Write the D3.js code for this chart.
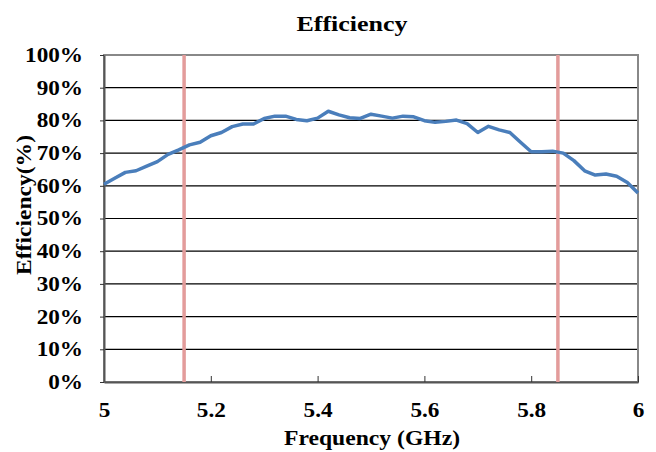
<!DOCTYPE html>
<html>
<head>
<meta charset="utf-8">
<script src="https://cdn.jsdelivr.net/npm/d3@7"></script>
<style>
	body { margin: 0; background: white; }
	text { font-family: "Liberation Serif", "Times New Roman", serif; font-weight: bold; }
</style>
</head>
<body>
<div id="plot"></div>
<script>
// frequency in GHz, efficiency in %
const freqs = d3.range(0, 51).map((i) => +(5 + i * 0.02).toFixed(2));
const efficiency = [
	60.5, 62.3, 64.1, 64.6, 66.0, 67.4, 69.6, 71.0, 72.5, 73.3,
	75.3, 76.3, 78.1, 78.9, 78.9, 80.6, 81.3, 81.3, 80.3, 79.9,
	80.7, 82.8, 81.7, 80.8, 80.6, 81.9, 81.3, 80.7, 81.3, 81.1,
	79.9, 79.4, 79.7, 80.1, 79.0, 76.3, 78.2, 77.1, 76.3, 73.3,
	70.4, 70.4, 70.6, 70.0, 67.7, 64.6, 63.3, 63.6, 62.9, 61.0,
	57.8
];
const bandEdges = [5.15, 5.85];
const xTicks = [5, 5.2, 5.4, 5.6, 5.8, 6];
const yTicks = [0, 10, 20, 30, 40, 50, 60, 70, 80, 90, 100];

const margin = { top: 55, right: 18, bottom: 70, left: 104 },
	width = 656 - margin.left - margin.right,
	height = 452 - margin.top - margin.bottom;

// the original text is a bit wider than Liberation Serif
const sx = 1.16;

const svg = d3
	.select("#plot")
	.append("svg")
	.attr("width", 656)
	.attr("height", 452);

const g = svg
	.append("g")
	.attr("transform", `translate(${margin.left},${margin.top})`);

const x = d3.scaleLinear().domain([5, 6]).range([0, width]);
const y = d3.scaleLinear().domain([0, 100]).range([height, 0]);

// grid lines
g.append("g")
	.selectAll("line")
	.data(yTicks.filter((d) => d > 0 && d < 100))
	.enter()
	.append("line")
	.attr("x1", 0)
	.attr("x2", width)
	.attr("y1", (d) => y(d))
	.attr("y2", (d) => y(d))
	.style("stroke", "#000")
	.style("stroke-width", 1.2);

// frame
g.append("rect")
	.attr("width", width)
	.attr("height", height)
	.style("fill", "none")
	.style("stroke", "#888")
	.style("stroke-width", 2);

// x axis, ticks pointing up
const xAxis = g
	.append("g")
	.attr("transform", `translate(0, ${height})`)
	.call(
		d3.axisBottom(x)
			.tickValues(xTicks)
			.tickSizeInner(-6)
			.tickSizeOuter(0)
			.tickPadding(21)
			.tickFormat((d) => d3.format("")(d))
	);
xAxis.select(".domain").style("stroke", "#555").style("stroke-width", 2);
xAxis.selectAll(".tick line").style("stroke", "#333");
xAxis.selectAll("text")
	.style("font-size", "20px")
	.style("fill", "#000")
	.attr("transform", `scale(${sx},1)`);

// y axis
const yAxis = g
	.append("g")
	.call(
		d3.axisLeft(y)
			.tickValues(yTicks)
			.tickSizeInner(4)
			.tickSizeOuter(0)
			.tickFormat((d) => d + "%")
	);
yAxis.select(".domain").style("stroke", "#555").style("stroke-width", 2);
yAxis.selectAll(".tick line").style("stroke", "#333");
yAxis.selectAll("text")
	.style("font-size", "20px")
	.style("fill", "#000")
	.attr("x", -21 / sx)
	.attr("transform", `scale(${sx},1)`);

// band edge markers
g.selectAll(".edge")
	.data(bandEdges)
	.enter()
	.append("line")
	.attr("class", "edge")
	.attr("x1", (d) => x(d))
	.attr("x2", (d) => x(d))
	.attr("y1", 0)
	.attr("y2", height)
	.style("stroke", "#e39c9b")
	.style("stroke-width", 3.5);

// efficiency curve
const line = d3
	.line()
	.x((d, i) => x(freqs[i]))
	.y((d) => y(d));

g.append("path")
	.datum(efficiency)
	.attr("d", line)
	.style("fill", "none")
	.style("stroke", "#4a7ebb")
	.style("stroke-width", 3.5)
	.style("stroke-linejoin", "round");

// titles
svg.append("text")
	.attr("x", 352)
	.attr("y", 31)
	.attr("text-anchor", "middle")
	.attr("textLength", 111)
	.attr("lengthAdjust", "spacingAndGlyphs")
	.style("font-size", "22px")
	.text("Efficiency");

svg.append("text")
	.attr("x", 372)
	.attr("y", 445)
	.attr("text-anchor", "middle")
	.attr("textLength", 176)
	.attr("lengthAdjust", "spacingAndGlyphs")
	.style("font-size", "20px")
	.text("Frequency (GHz)");

svg.append("text")
	.attr("transform", "translate(31, 205) rotate(-90)")
	.attr("text-anchor", "middle")
	.attr("textLength", 140)
	.attr("lengthAdjust", "spacingAndGlyphs")
	.style("font-size", "20px")
	.text("Efficiency(%)");
</script>
</body>
</html>
